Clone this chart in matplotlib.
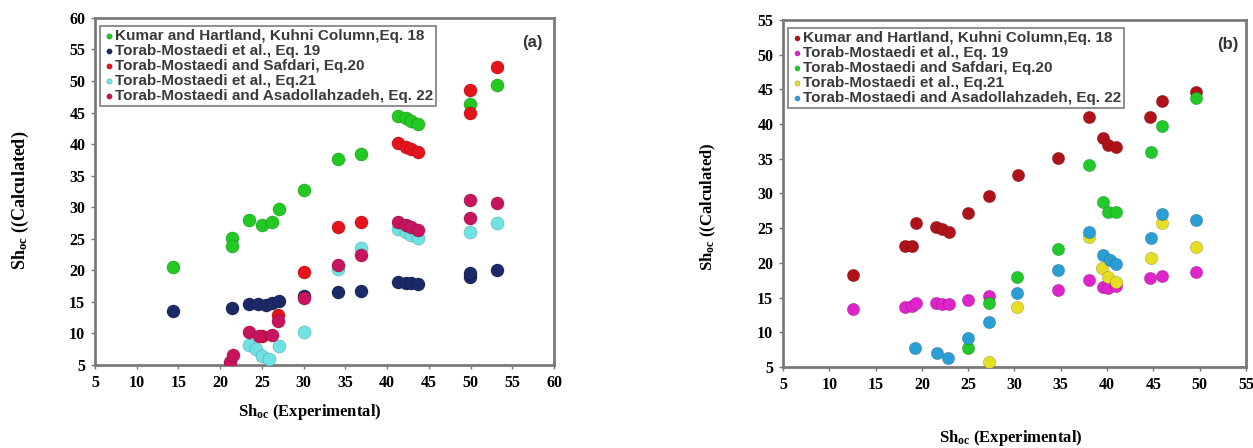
import matplotlib
matplotlib.use("Agg")
import matplotlib.pyplot as plt

# ---------------- Panel (a) data ----------------
a_labels = ["Kumar and Hartland, Kuhni Column,Eq. 18",
            "Torab-Mostaedi et al., Eq. 19",
            "Torab-Mostaedi and Safdari, Eq.20",
            "Torab-Mostaedi et al., Eq.21",
            "Torab-Mostaedi and Asadollahzadeh, Eq. 22"]
a_colors = ["#22c922", "#1b2a66", "#e5141c", "#6fe3e3", "#c8145e"]

a18_x = [14.4, 21.4, 21.4, 23.4, 25.0, 26.2, 27.0, 30.0, 34.1, 36.9, 41.3, 42.2, 42.9, 43.7, 49.9, 53.1]
a18_y = [20.5, 25.1, 23.8, 28.0, 27.2, 27.6, 29.7, 32.8, 37.6, 38.5, 44.4, 44.1, 43.6, 43.2, 46.3, 49.4]

a19_x = [14.4, 21.4, 23.4, 24.5, 25.5, 26.2, 27.0, 30.0, 34.1, 36.9, 41.3, 42.2, 42.9, 43.7, 49.9, 49.9, 53.1]
a19_y = [13.6, 14.1, 14.6, 14.6, 14.5, 14.8, 15.1, 16.0, 16.6, 16.7, 18.1, 18.0, 18.0, 17.9, 18.9, 19.5, 20.1]

a20_x = [25.0, 26.9, 30.0, 34.1, 36.9, 41.3, 42.2, 42.9, 43.7, 49.9, 49.9, 53.1]
a20_y = [9.6, 13.0, 19.8, 26.9, 27.7, 40.2, 39.6, 39.2, 38.8, 44.9, 48.6, 52.2]

a21_x = [23.4, 24.3, 25.0, 25.9, 27.0, 30.0, 34.1, 36.9, 41.3, 42.2, 42.9, 43.7, 49.9, 53.1]
a21_y = [8.2, 7.5, 6.4, 6.0, 8.0, 10.3, 20.2, 23.5, 26.5, 26.0, 25.6, 25.2, 26.1, 27.5]

a22_x = [21.2, 21.5, 23.4, 24.7, 26.2, 26.9, 30.0, 34.1, 36.9, 41.3, 42.2, 42.9, 43.7, 49.9, 49.9, 53.1]
a22_y = [5.5, 6.6, 10.2, 9.6, 9.8, 12.0, 15.6, 20.8, 22.4, 27.7, 27.2, 26.8, 26.4, 31.1, 28.3, 30.7]

# ---------------- Panel (b) data ----------------
b_colors = ["#b0121a", "#e024cc", "#22c92a", "#e6de22", "#2a9fd6"]

b18_x = [12.6, 18.2, 18.9, 19.4, 21.5, 22.2, 22.9, 25.0, 27.2, 30.4, 34.7, 38.1, 39.6, 40.1, 41.0, 44.6, 45.9, 49.6]
b18_y = [18.3, 22.4, 22.5, 25.7, 25.2, 24.9, 24.5, 27.2, 29.6, 32.7, 35.1, 41.0, 38.0, 37.0, 36.7, 41.0, 43.3, 44.6]

b19_x = [12.6, 18.2, 18.9, 19.4, 21.5, 22.2, 22.9, 25.0, 27.2, 34.7, 38.1, 39.6, 40.1, 41.0, 44.6, 45.9, 49.6]
b19_y = [13.4, 13.6, 13.8, 14.2, 14.2, 14.1, 14.1, 14.7, 15.2, 16.1, 17.5, 16.5, 16.4, 16.6, 17.8, 18.1, 18.7]

b20_x = [25.0, 27.2, 30.3, 34.7, 38.1, 39.6, 40.1, 41.0, 44.7, 45.9, 49.6]
b20_y = [7.8, 14.2, 18.0, 22.0, 34.1, 28.8, 27.3, 27.3, 36.0, 39.7, 43.8]

b21_x = [27.2, 30.3, 38.1, 39.4, 40.1, 41.0, 44.7, 45.9, 49.6]
b21_y = [5.7, 13.6, 23.7, 19.3, 18.0, 17.2, 20.7, 25.7, 22.3]

b22_x = [19.3, 21.6, 22.8, 25.0, 27.2, 30.3, 34.7, 38.1, 39.6, 40.3, 41.0, 44.7, 45.9, 49.6]
b22_y = [7.7, 7.0, 6.3, 9.2, 11.5, 15.7, 19.0, 24.5, 21.1, 20.4, 19.8, 23.6, 27.0, 26.2]

ticks = [5, 10, 15, 20, 25, 30, 35, 40, 45, 50, 55, 60]
b_ticks = [5, 10, 15, 20, 25, 30, 35, 40, 45, 50, 55]

plt.rcParams["mathtext.fontset"] = "custom"
plt.rcParams["mathtext.bf"] = "Liberation Serif:bold"
plt.rcParams["mathtext.rm"] = "Liberation Serif"

fig = plt.figure(figsize=(12.53, 4.48), dpi=100)
ax1 = fig.add_axes([0.0758, 0.1853, 0.3665, 0.7747])
ax2 = fig.add_axes([0.6249, 0.1808, 0.3695, 0.7746])

serif = "Liberation Serif"
sans = "Liberation Sans"


def style_axes(ax, xt, yt, lim_x, lim_y):
    ax.set_xlim(*lim_x)
    ax.set_ylim(*lim_y)
    ax.set_xticks(xt)
    ax.set_yticks(yt)
    for lab in ax.get_xticklabels() + ax.get_yticklabels():
        lab.set_fontfamily(serif)
        lab.set_fontweight("bold")
        lab.set_fontsize(11.5)
    ax.tick_params(length=3, width=1, color="#777777", pad=4)
    for s in ax.spines.values():
        s.set_color("#7a7a7a")
        s.set_linewidth(2)


def scat(ax, xs, ys, color, label, s=90, z=3):
    ax.scatter(xs, ys, s=s, c=color, edgecolors="#00000030", linewidths=0.6,
               label=label, zorder=z)


a_sets = [(a18_x, a18_y), (a19_x, a19_y), (a20_x, a20_y), (a21_x, a21_y), (a22_x, a22_y)]
for i, (xs, ys) in enumerate(a_sets):
    scat(ax1, xs, ys, a_colors[i], a_labels[i], z=3 + i)

b_sets = [(b18_x, b18_y), (b19_x, b19_y), (b20_x, b20_y), (b21_x, b21_y), (b22_x, b22_y)]
for i, (xs, ys) in enumerate(b_sets):
    scat(ax2, xs, ys, b_colors[i], a_labels[i], s=80, z=3 + i)

style_axes(ax1, ticks, ticks, (5, 60), (5, 60))
style_axes(ax2, b_ticks, b_ticks, (5, 55), (5, 55))

for ax in (ax1, ax2):
    leg = ax.legend(loc="upper left", bbox_to_anchor=(0.005, 0.985), markerscale=0.42,
                    prop={"family": sans, "weight": "bold", "size": 11},
                    frameon=True, fancybox=False, handletextpad=0.05,
                    labelspacing=0.06, borderpad=0.2, borderaxespad=0.2,
                    handlelength=0.7)
    leg.get_frame().set_edgecolor("#777777")
    leg.get_frame().set_linewidth(1.5)
    for t in leg.get_texts():
        t.set_color("#3a3a3a")

ax1.text(0.975, 0.93, "(a)", transform=ax1.transAxes, ha="right", va="center",
         fontfamily=sans, fontweight="bold", fontsize=12, color="#333333")
ax2.text(0.983, 0.93, "(b)", transform=ax2.transAxes, ha="right", va="center",
         fontfamily=sans, fontweight="bold", fontsize=12, color="#333333")

ylab = r"$\mathbf{Sh_{oc}}$ ((Calculated)"
xlab = r"$\mathbf{Sh_{oc}}$ (Experimental)"

fig.text(20 / 1253, 1 - 200 / 448, ylab, rotation=90, ha="center", va="center",
         fontfamily=serif, fontweight="bold", fontsize=13)
fig.text(708 / 1253, 1 - 207 / 448, ylab, rotation=90, ha="center", va="center",
         fontfamily=serif, fontweight="bold", fontsize=12)
fig.text(310 / 1253, 1 - 412 / 448, xlab, ha="center", va="center",
         fontfamily=serif, fontweight="bold", fontsize=12)
fig.text(1011 / 1253, 1 - 438 / 448, xlab, ha="center", va="center",
         fontfamily=serif, fontweight="bold", fontsize=12)

fig.savefig("out.png", dpi=100)
